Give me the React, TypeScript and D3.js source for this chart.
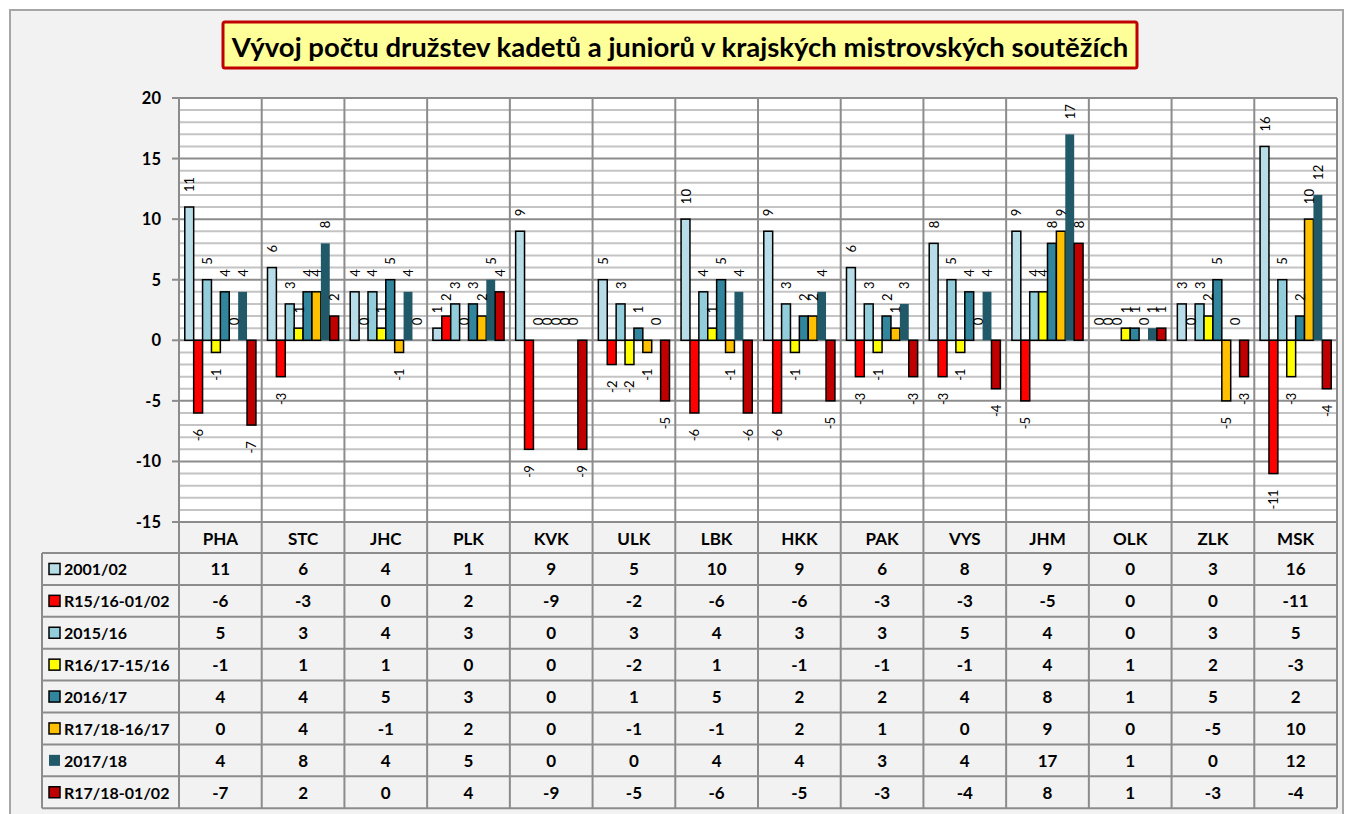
import React from 'react';
import * as d3 from 'd3';

const categories = ['PHA', 'STC', 'JHC', 'PLK', 'KVK', 'ULK', 'LBK', 'HKK', 'PAK', 'VYS', 'JHM', 'OLK', 'ZLK', 'MSK'];

const seriesNames = ['2001/02', 'R15/16-01/02', '2015/16', 'R16/17-15/16', '2016/17', 'R17/18-16/17', '2017/18', 'R17/18-01/02'];
const seriesColors = ['#b7dde8', '#ff0000', '#92cddc', '#ffff00', '#31859c', '#ffc000', '#215968', '#c00000'];
const seriesStroke = [true, true, true, true, true, true, false, true];

const v2001 = [11, 6, 4, 1, 9, 5, 10, 9, 6, 8, 9, 0, 3, 16];
const r1516 = [-6, -3, 0, 2, -9, -2, -6, -6, -3, -3, -5, 0, 0, -11];
const v2015 = [5, 3, 4, 3, 0, 3, 4, 3, 3, 5, 4, 0, 3, 5];
const r1617 = [-1, 1, 1, 0, 0, -2, 1, -1, -1, -1, 4, 1, 2, -3];
const v2016 = [4, 4, 5, 3, 0, 1, 5, 2, 2, 4, 8, 1, 5, 2];
const r1718a = [0, 4, -1, 2, 0, -1, -1, 2, 1, 0, 9, 0, -5, 10];
const v2017 = [4, 8, 4, 5, 0, 0, 4, 4, 3, 4, 17, 1, 0, 12];
const r1718b = [-7, 2, 0, 4, -9, -5, -6, -5, -3, -4, 8, 1, -3, -4];

const seriesValues = [v2001, r1516, v2015, r1617, v2016, r1718a, v2017, r1718b];

const majorTicks = [20, 15, 10, 5, 0, -5, -10, -15];

const title = 'Vývoj počtu družstev kadetů a juniorů v krajských mistrovských soutěžích';

const FONT = 'Lato, "Open Sans", sans-serif';

export default function App() {
  const left = 179, right = 1337, top = 98, bottom = 522;
  const x = d3.scaleBand<string>().domain(categories).range([left, right]);
  const xs = d3.scaleBand<string>().domain(seriesNames).range([0, x.bandwidth()]).paddingOuter(0.65);
  const y = d3.scaleLinear().domain([-15, 20]).range([bottom, top]);
  const minor = d3.range(-15, 21).filter(v => v % 5 !== 0);

  const headerTop = bottom, rowTop = 553, rowH = 31.9;
  const tableLeft = 42;
  const tableBottom = rowTop + rowH * seriesNames.length;
  const grid = '#8c8c8c';

  return (
    <svg width={1346} height={814} style={{ position: 'absolute', left: 0, top: 0 }} fontFamily={FONT}>
      <rect x={10} y={10} width={1333} height={820} fill="#f2f2f2" stroke="#a6a6a6" strokeWidth={2} />

      {/* title */}
      <rect x={223} y={22} width={914} height={46} fill="#ffff99" stroke="#c00000" strokeWidth={3} rx={2} />
      <text x={680} y={46} textAnchor="middle" dominantBaseline="central" fontSize={27.5} fontWeight="bold">{title}</text>

      {/* plot area */}
      <rect x={left} y={top} width={right - left} height={bottom - top} fill="#ffffff" />
      {minor.map(v => (
        <line key={'mn' + v} x1={left} x2={right} y1={y(v)} y2={y(v)} stroke="#c4c4c4" strokeWidth={2} />
      ))}
      {majorTicks.map(v => (
        <line key={'mj' + v} x1={left} x2={right} y1={y(v)} y2={y(v)} stroke={grid} strokeWidth={2} />
      ))}
      {categories.map(c => (
        <line key={'v' + c} x1={x(c)!} x2={x(c)!} y1={top} y2={tableBottom} stroke={grid} strokeWidth={2} />
      ))}
      <line x1={right} x2={right} y1={top} y2={tableBottom} stroke={grid} strokeWidth={2} />

      {/* y axis */}
      {majorTicks.map(v => (
        <g key={'t' + v}>
          <line x1={172} x2={left} y1={y(v)} y2={y(v)} stroke={grid} strokeWidth={2} />
          <text x={161} y={y(v)} textAnchor="end" dominantBaseline="central" fontSize={16.5} fontWeight="bold">{v}</text>
        </g>
      ))}

      {/* bars */}
      {seriesNames.map((s, si) => (
        <g key={'s' + s}>
          {categories.map((c, ci) => {
            const v = seriesValues[si][ci];
            if (v === 0) return null;
            const bx = x(c)! + xs(s)!;
            const y0 = y(Math.max(0, v)), y1 = y(Math.min(0, v));
            return (
              <rect key={c} x={bx} y={y0} width={xs.bandwidth()} height={y1 - y0}
                fill={seriesColors[si]} stroke={seriesStroke[si] ? '#000' : 'none'} strokeWidth={1.5} />
            );
          })}
        </g>
      ))}

      {/* data labels */}
      {seriesNames.map((s, si) => (
        <g key={'l' + s}>
          {categories.map((c, ci) => {
            const v = seriesValues[si][ci];
            const cx = x(c)! + xs(s)! + xs.bandwidth() / 2;
            const ly = v >= 0 ? y(v) - 15 : y(v) + 16;
            return (
              <text key={c} transform={`translate(${cx},${ly}) rotate(-90)`} textAnchor={v >= 0 ? 'start' : 'end'}
                dominantBaseline="central" fontSize={13} fill="#000">{v}</text>
            );
          })}
        </g>
      ))}

      {/* data table */}
      <line x1={left} x2={right} y1={headerTop} y2={headerTop} stroke={grid} strokeWidth={2} />
      {d3.range(seriesNames.length + 1).map(i => (
        <line key={'r' + i} x1={tableLeft} x2={right} y1={rowTop + i * rowH} y2={rowTop + i * rowH} stroke={grid} strokeWidth={2} />
      ))}
      <line x1={tableLeft} x2={tableLeft} y1={rowTop} y2={tableBottom} stroke={grid} strokeWidth={2} />
      {categories.map(c => (
        <text key={'h' + c} x={x(c)! + x.bandwidth() / 2} y={(headerTop + rowTop) / 2 + 1} textAnchor="middle"
          dominantBaseline="central" fontSize={17} fontWeight="bold">{c}</text>
      ))}
      {seriesNames.map((s, si) => {
        const cy = rowTop + si * rowH + rowH / 2;
        return (
          <g key={'row' + s}>
            <rect x={49} y={cy - 5.5} width={11} height={11} fill={seriesColors[si]}
              stroke={seriesStroke[si] ? '#000' : 'none'} strokeWidth={1.5} />
            <text x={64} y={cy} dominantBaseline="central" fontSize={16} fontWeight="bold">{s}</text>
            {categories.map((c, ci) => (
              <text key={c} x={x(c)! + x.bandwidth() / 2} y={cy} textAnchor="middle" dominantBaseline="central"
                fontSize={17} fontWeight="bold">{seriesValues[si][ci]}</text>
            ))}
          </g>
        );
      })}
    </svg>
  );
}
